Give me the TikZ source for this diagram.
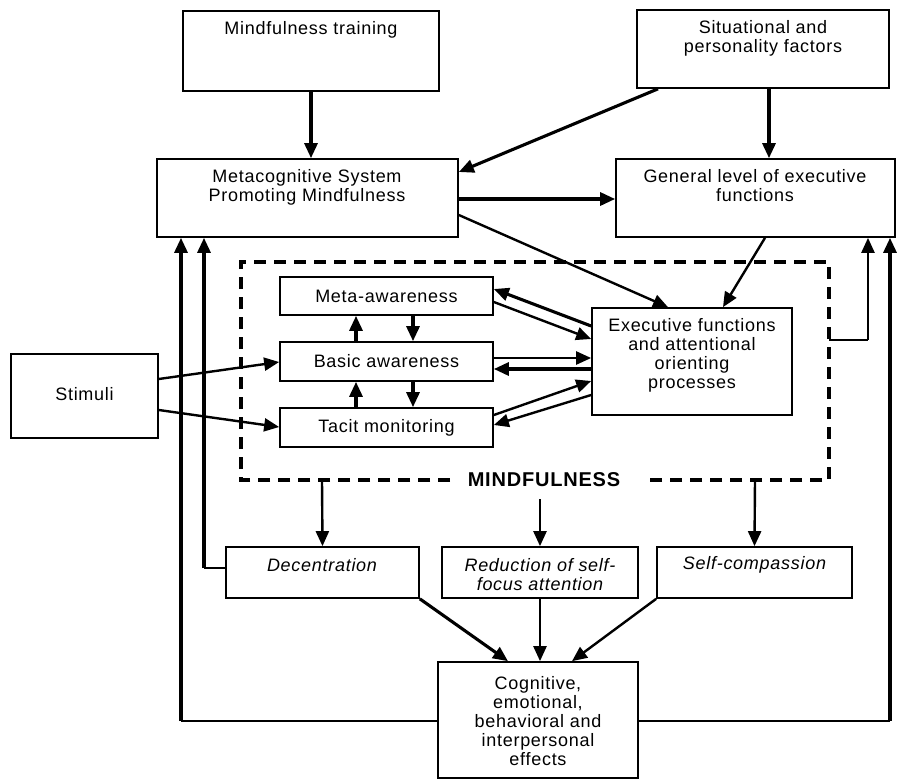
\documentclass[tikz,border=0pt]{standalone}
\usepackage{fontspec}
\setmainfont{Liberation Sans}[LetterSpace=4]
\usetikzlibrary{arrows.meta}
\begin{document}
\begin{tikzpicture}[x=1pt,y=-1pt,
  box/.style={draw, line width=1.7pt, inner sep=0pt},
  txt/.style={font=\fontsize{18}{19}\selectfont, align=center, inner sep=0pt},
  itxt/.style={font=\fontsize{18}{19}\selectfont\itshape, align=center, inner sep=0pt},
  arr/.style={line width=3.1pt, -{Triangle[length=15pt,width=13pt]}},
  tarr/.style={line width=2.4pt, -{Triangle[length=15pt,width=13pt]}},
  fb/.style={line width=1.8pt},
  fbv/.style={line width=3.1pt, -{Triangle[length=15pt,width=13pt]}},
  dashbox/.style={line width=4pt, dash pattern=on 12pt off 8pt}
]
\useasboundingbox (0,0) rectangle (906,780);

% dashed mindfulness frame
\draw[dashbox] (450,480) -- (241,480) -- (241,262) -- (829,262) -- (829,480) -- (643,480);
\node[font=\fontsize{20}{20}\selectfont\bfseries, inner sep=0pt] (mind) at (544,480) {MINDFULNESS};
\coordinate (db1) at (322,480);
\coordinate (db2) at (755,480);
\coordinate (db3) at (540,499);
\coordinate (dr) at (829,340);

% boxes
\node[box, minimum width=256pt, minimum height=80pt] (mt) at (311,51) {};
\node[box, minimum width=252pt, minimum height=78pt] (sp) at (763,49) {};
\node[box, minimum width=301pt, minimum height=78pt] (meta) at (307.5,198) {};
\node[box, minimum width=279pt, minimum height=78pt] (gen) at (755.5,198) {};
\node[box, minimum width=213pt, minimum height=38pt] (ma) at (386.5,296) {};
\node[box, minimum width=213pt, minimum height=39pt] (ba) at (386.5,361.5) {};
\node[box, minimum width=213pt, minimum height=39pt] (tm) at (386.5,427.5) {};
\node[box, minimum width=200pt, minimum height=107pt] (ex) at (692,361.5) {};
\node[box, minimum width=147pt, minimum height=84pt] (st) at (84.5,396) {};
\node[box, minimum width=193pt, minimum height=51pt] (dc) at (322.5,572.5) {};
\node[box, minimum width=196pt, minimum height=51pt] (rd) at (540,572.5) {};
\node[box, minimum width=195pt, minimum height=51pt] (sc) at (754.5,572.5) {};
\node[box, minimum width=200pt, minimum height=116pt] (cg) at (538,720) {};

% texts
\node[txt] (mtT) at (311,30) {Mindfulness training};
\node[txt] (spT) at (763,38) {Situational and\\personality factors};
\node[txt] (metaT) at (307,187) {Metacognitive System\\Promoting Mindfulness};
\node[txt] (genT) at (755,186) {General level of executive\\functions};
\node[txt] (maT) at (386.5,296) {Meta-awareness};
\node[txt] (baT) at (386.5,361.5) {Basic awareness};
\node[txt] (tmT) at (386.5,427.5) {Tacit monitoring};
\node[txt] (exT) at (692,355) {Executive functions\\and attentional\\orienting\\processes};
\node[txt] (stT) at (84.5,394) {Stimuli};
\node[itxt] (dcT) at (322,565) {Decentration};
\node[itxt] (rdT) at (540,575) {Reduction of self-\\focus attention};
\node[itxt] (scT) at (754.5,565) {Self-compassion};
\node[txt] (cgT) at (538,721) {Cognitive,\\emotional,\\behavioral and\\interpersonal\\effects};

% top connectors
\draw[arr] (mt.south) -- (mt.south |- meta.north);
\draw[arr] (658,0 |- sp.south) -- (meta.east |- 0,172);
\draw[arr] (769,0 |- sp.south) -- (769,0 |- gen.north);
\draw[arr] (meta.east |- 0,199) -- (gen.west |- 0,199);
\draw[tarr] (meta.east |- 0,215) -- (668,0 |- ex.north);
\draw[tarr] (765,0 |- gen.south) -- (723,0 |- ex.north);

% inner connectors
\draw[arr] (ex.west |- 0,326) -- (ma.east |- 0,289);
\draw[tarr] (ma.east |- 0,302) -- (ex.west |- 0,339);
\draw[tarr] (ba.east |- 0,358) -- (ex.west |- 0,358);
\draw[arr] (ex.west |- 0,369) -- (ba.east |- 0,369);
\draw[tarr] (tm.east |- 0,415) -- (ex.west |- 0,381);
\draw[tarr] (ex.west |- 0,395) -- (tm.east |- 0,425);
\draw[arr] (413,0 |- ma.south) -- (413,0 |- ba.north);
\draw[arr] (356,0 |- ba.north) -- (356,0 |- ma.south);
\draw[arr] (413,0 |- ba.south) -- (413,0 |- tm.north);
\draw[arr] (356,0 |- tm.north) -- (356,0 |- ba.south);
\draw[tarr] (st.east |- 0,379) -- (ba.west |- 0,362);
\draw[tarr] (st.east |- 0,410) -- (tm.west |- 0,427);

% outputs of mindfulness
\draw[tarr] (db1) -- (dc.north);
\draw[tarr] (db3) -- (rd.north);
\draw[tarr] (db2) -- (sc.north);
\draw[arr] (dc.south east) -- (508,0 |- cg.north);
\draw[tarr] (rd.south) -- (rd.south |- cg.north);
\draw[tarr] (sc.south west) -- (572,0 |- cg.north);

% feedback loops
\coordinate (fl) at (181,721);
\coordinate (fr) at (890,721);
\coordinate (fd) at (204,568);
\coordinate (fe) at (868,340);
\draw[fb] (cg.west |- fl) -- (fl);
\draw[fbv] (fl) -- (fl |- meta.south);
\draw[fb] (cg.east |- fr) -- (fr);
\draw[fbv] (fr) -- (fr |- gen.south);
\draw[fb] (dc.west |- fd) -- (fd);
\draw[fbv] (fd) -- (fd |- meta.south);
\draw[fb] (dr) -- (fe);
\draw[tarr] (fe) -- (fe |- gen.south);
\end{tikzpicture}
\end{document}
